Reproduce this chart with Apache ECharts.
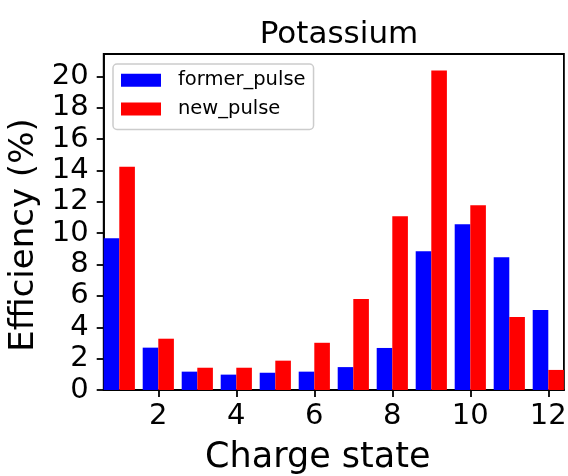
<!DOCTYPE html>
<html>
<head>
<meta charset="utf-8">
<script src="https://cdn.jsdelivr.net/npm/echarts@6/dist/echarts.min.js"></script>
<style>html,body{margin:0;padding:0;background:#fff}#c{width:568px;height:476px}</style>
</head>
<body>
<div id="c"></div>
<script>
const chargeStates = [1, 2, 3, 4, 5, 6, 7, 8, 9, 10, 11, 12];
const formerPulse = [9.67, 2.7, 1.17, 0.98, 1.1, 1.17, 1.46, 2.68, 8.85, 10.57, 8.47, 5.1];
const newPulse = [14.24, 3.27, 1.42, 1.42, 1.87, 3.01, 5.8, 11.08, 20.37, 11.78, 4.65, 1.28];
const xTicks = [2, 4, 6, 8, 10, 12];
const yTicks = [0, 2, 4, 6, 8, 10, 12, 14, 16, 18, 20];

const FONT = 'DejaVu Sans';
const chart = echarts.init(document.getElementById('c'), null, {renderer: 'canvas'});

function barRenderer(offsetLo, offsetHi, color) {
  return function (params, api) {
    const x = api.value(0), y = api.value(1);
    const p1 = api.coord([x + offsetLo, y]);
    const p2 = api.coord([x + offsetHi, 0]);
    return {
      type: 'rect',
      shape: {x: p1[0], y: p1[1], width: p2[0] - p1[0], height: p2[1] - p1[1]},
      style: {fill: color}
    };
  };
}

chart.setOption({
  animation: false,
  backgroundColor: '#fff',
  title: {
    text: 'Potassium',
    left: 334, top: 14, textAlign: 'center',
    textStyle: {fontFamily: FONT, fontSize: 31, fontWeight: 'normal', color: '#000'}
  },
  legend: {
    orient: 'vertical', left: 113, top: 64,
    data: ['former_pulse', 'new_pulse'],
    itemWidth: 40, itemHeight: 13, itemGap: 0,
    icon: 'rect',
    padding: [2, 8, 6, 8],
    backgroundColor: '#fff', borderColor: '#cccccc', borderWidth: 1.5, borderRadius: 4,
    textStyle: {fontFamily: FONT, fontSize: 19.5, color: '#000', lineHeight: 28.7, padding: [0, 0, 0, 12]}
  },
  grid: {left: 103.7, right: 4.1, top: 54, bottom: 86, outerBoundsMode: 'none', containLabel: false, show: true, borderColor: '#000', borderWidth: 1.8, backgroundColor: 'transparent'},
  xAxis: {
    type: 'value', min: 0.6, max: 12.4,
    name: 'Charge state', nameLocation: 'middle', nameGap: 50,
    nameTextStyle: {fontFamily: FONT, fontSize: 35, color: '#000', padding: [0, 32, 0, 0]},
    axisLine: {show: true, lineStyle: {color: '#000', width: 1.8}},
    axisTick: {show: true, length: 7, lineStyle: {color: '#000', width: 1.8}, customValues: xTicks},
    axisLabel: {fontFamily: FONT, fontSize: 29, color: '#000', margin: 12, customValues: xTicks},
    splitLine: {show: false}
  },
  yAxis: {
    type: 'value', min: 0, max: 21.42,
    name: 'Efficiency (%)', nameLocation: 'middle', nameGap: 62,
    nameTextStyle: {fontFamily: FONT, fontSize: 34, color: '#000', padding: [0, 26, 0, 0]},
    axisLine: {show: true, lineStyle: {color: '#000', width: 1.8}},
    axisTick: {show: true, length: 7, lineStyle: {color: '#000', width: 1.8}, customValues: yTicks},
    axisLabel: {fontFamily: FONT, fontSize: 29, color: '#000', margin: 15, customValues: yTicks},
    splitLine: {show: false}
  },
  series: [
    {
      name: 'former_pulse', type: 'custom', itemStyle: {color: '#0000ff'},
      renderItem: barRenderer(-0.4, 0, '#0000ff'),
      encode: {x: 0, y: 1},
      data: chargeStates.map((c, i) => [c, formerPulse[i]])
    },
    {
      name: 'new_pulse', type: 'custom', itemStyle: {color: '#ff0000'},
      renderItem: barRenderer(0, 0.4, '#ff0000'),
      encode: {x: 0, y: 1},
      data: chargeStates.map((c, i) => [c, newPulse[i]])
    }
  ]
});
</script>
</body>
</html>
